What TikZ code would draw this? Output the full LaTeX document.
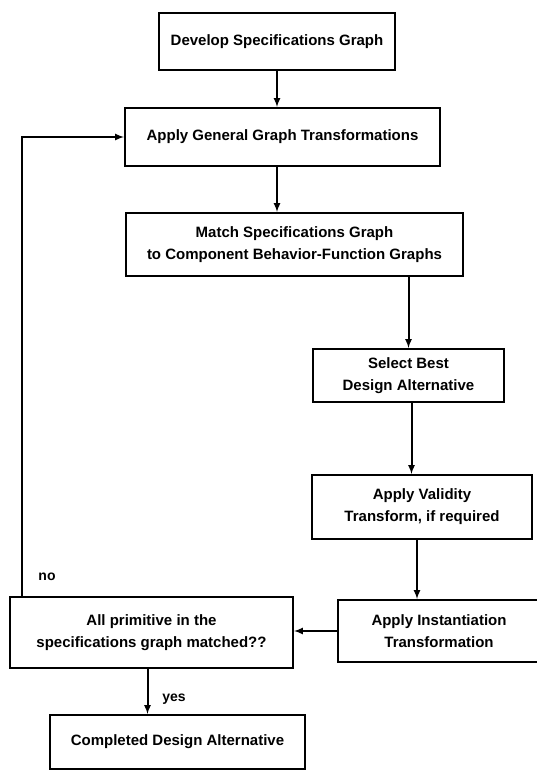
\documentclass[tikz,border=0pt]{standalone}
\usepackage{fontspec}
\setmainfont{Liberation Sans}
\usetikzlibrary{arrows}

\begin{document}
\begin{tikzpicture}[x=1pt, y=-1pt, >=latex,
  stage/.style={rectangle, draw=black, align=center, inner sep=0pt,
    font=\fontsize{15}{22}\selectfont\bfseries},
  %
  flow/.style={->},
  %
  answer/.style={font=\fontsize{14}{18}\selectfont\bfseries, inner sep=0pt}
  ]

  \tikzset{every path/.style={line width=2pt}}
  \useasboundingbox (0,0) rectangle (536,771);

  % main chain of stages
  \node [stage, minimum width=236pt, minimum height=57pt] (develop) at (277,41.5)
    {Develop Specifications Graph};
  \node [stage, minimum width=315pt, minimum height=58pt] (general) at (282.5,137)
    {Apply General Graph Transformations};
  \node [stage, minimum width=337pt, minimum height=63pt] (match) at (294.5,244.5)
    {Match Specifications Graph\\to Component Behavior-Function Graphs};
  \node [stage, minimum width=191pt, minimum height=53pt] (select) at (408.5,375.5)
    {Select Best\\Design Alternative};
  \node [stage, minimum width=220pt, minimum height=64pt] (validity) at (422,507)
    {Apply Validity\\Transform, if required};
  \node [stage, minimum width=202pt, minimum height=62pt] (inst) at (439,631)
    {Apply Instantiation\\Transformation};
  \node [stage, minimum width=283pt, minimum height=71pt] (check) at (151.5,632.5)
    {All primitive in the\\specifications graph matched??};
  \node [stage, minimum width=255pt, minimum height=54pt] (done) at (177.5,742)
    {Completed Design Alternative};

  \coordinate (loop) at (22,134);
  \node [answer] (no) at (47,577) {no};
  \node [answer] (yes) at (174,699) {yes};

  \draw [flow] (develop.south) -- (develop.south |- general.north);
  \draw [flow] (develop.south |- general.south) -- (develop.south |- match.north);
  \draw [flow] (select.north |- match.south) -- (select.north);
  \draw [flow] ([xshift=3pt]select.south) -- ([xshift=3pt]select.south |- validity.north);
  \draw [flow] ([xshift=-5pt]validity.south) -- ([xshift=-5pt]validity.south |- inst.north);
  \draw [flow] (inst.west) -- (inst.west -| check.east);
  \draw [flow] ([xshift=-4pt]check.south) -- ([xshift=-4pt]check.south |- done.north);
  \draw [flow] (check.north -| loop) |- (general.west);

\end{tikzpicture}
\end{document}
